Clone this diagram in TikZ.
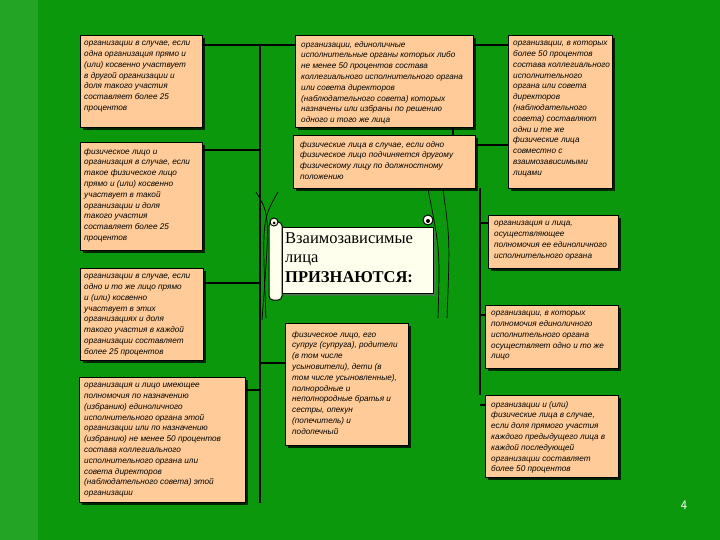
\documentclass[tikz,border=0pt]{standalone}
\usepackage{fontspec}
\setmainfont{Liberation Serif}
\newfontfamily\boxfont{Liberation Sans}
\usetikzlibrary{shadows}
\definecolor{slidegreen}{RGB}{12,152,12}
\definecolor{stripgreen}{RGB}{36,164,36}
\definecolor{peach}{RGB}{255,204,153}
\definecolor{cream}{RGB}{255,255,238}
\tikzset{
  box/.style={draw=black, line width=1.2pt, fill=peach, anchor=north west, inner sep=0pt,
    drop shadow={shadow xshift=2.5pt, shadow yshift=-2.5pt, fill=black!85!green, opacity=1}},
  boxtext/.style={anchor=north west, align=left, inner sep=0pt, text=black,
    font=\boxfont\itshape\fontsize{8.2}{10.8}\selectfont},
  link/.style={line width=1.6pt, black},
  curl/.style={line width=0.7pt, black},
}
\begin{document}
\begin{tikzpicture}[x=1pt, y=-1pt]
  \useasboundingbox (0,0) rectangle (720,540);
  % background
  \fill[slidegreen] (0,0) rectangle (720,540);
  \fill[stripgreen] (0,0) rectangle (38,540);

  % Drawing boxes on the left
  \node[box, minimum width=122pt, minimum height=92pt] (l1) at (80,35) {};
  \node[boxtext] (l1t) at ([xshift=4pt, yshift=-6pt]l1.north west) {организации в случае, если\\одна организация прямо и\\(или) косвенно участвует\\в другой организации и\\доля такого участия\\составляет более 25\\процентов};
  \node[box, minimum width=122pt, minimum height=108pt] (l2) at (80,142) {};
  \node[boxtext] (l2t) at ([xshift=4pt, yshift=-6pt]l2.north west) {физическое лицо и\\организация в случае, если\\такое физическое лицо\\прямо и (или) косвенно\\участвует в такой\\организации и доля\\такого участия\\составляет более 25\\процентов};
  \node[box, minimum width=123pt, minimum height=92pt] (l3) at (80,268) {};
  \node[boxtext] (l3t) at ([xshift=4pt, yshift=-6pt]l3.north west) {организации в случае, если\\одно и то же лицо прямо\\и (или) косвенно\\участвует в этих\\организациях и доля\\такого участия в каждой\\организации составляет\\более 25 процентов};
  \node[box, minimum width=166pt, minimum height=125pt] (l4) at (79,377) {};
  \node[boxtext] (l4t) at ([xshift=5pt, yshift=-6pt]l4.north west) {организация и лицо имеющее\\полномочия по назначению\\(избранию) единоличного\\исполнительного органа этой\\организации или по назначению\\(избранию) не менее 50 процентов\\состава коллегиального\\исполнительного органа или\\совета директоров\\(наблюдательного совета) этой\\организации};

  % Drawing boxes in the middle
  \node[box, minimum width=178pt, minimum height=92pt] (m1) at (295,35) {};
  \node[boxtext] (m1t) at ([xshift=6pt, yshift=-6pt]m1.north west) {организации, единоличные\\исполнительные органы которых либо\\не менее 50 процентов состава\\коллегиального исполнительного органа\\или совета директоров\\(наблюдательного совета) которых\\назначены или избраны по решению\\одного и того же лица};
  \node[box, minimum width=182pt, minimum height=53pt] (m2) at (293,135) {};
  \node[boxtext] (m2t) at ([xshift=7pt, yshift=-6pt]m2.north west) {физические лица в случае, если одно\\физическое лицо подчиняется другому\\физическому лицу по должностному\\положению};
  \node[box, minimum width=123pt, minimum height=122pt] (lb) at (285,323) {};
  \node[boxtext] (lbt) at ([xshift=7pt, yshift=-8pt]lb.north west) {физическое лицо, его\\супруг (супруга), родители\\(в том числе\\усыновители), дети (в\\том числе усыновленные),\\полнородные и\\неполнородные братья и\\сестры, опекун\\(попечитель) и\\подопечный};

  % Drawing boxes on the right
  \node[box, minimum width=104pt, minimum height=153pt] (r0) at (508,35) {};
  \node[boxtext] (r0t) at ([xshift=5pt, yshift=-6pt]r0.north west) {организации, в которых\\более 50 процентов\\состава коллегиального\\исполнительного\\органа или совета\\директоров\\(наблюдательного\\совета) составляют\\одни и те же\\физические лица\\совместно с\\взаимозависимыми\\лицами};
  \node[box, minimum width=130pt, minimum height=53pt] (r1) at (488,215) {};
  \node[boxtext] (r1t) at ([xshift=6pt, yshift=-6pt]r1.north west) {организация и лица,\\осуществляющее\\полномочия ее единоличного\\исполнительного органа};
  \node[box, minimum width=133pt, minimum height=63pt] (r2) at (485,305) {};
  \node[boxtext] (r2t) at ([xshift=6pt, yshift=-6pt]r2.north west) {организации, в которых\\полномочия единоличного\\исполнительного органа\\осуществляет одно и то же\\лицо};
  \node[box, minimum width=133pt, minimum height=82pt] (r3) at (485,395) {};
  \node[boxtext] (r3t) at ([xshift=6pt, yshift=-6pt]r3.north west) {организации и (или)\\физические лица в случае,\\если доля прямого участия\\каждого предыдущего лица в\\каждой последующей\\организации составляет\\более 50 процентов};

  % Junction points
  \coordinate (spineL) at (260,45);
  \coordinate (spineR) at (480,188);
  \coordinate (tailL) at (262,320);
  \coordinate (tailR) at (447,318);

  % Drawing connectors
  \draw[link] ([yshift=-10pt]l1.north east) -- ([yshift=-10pt]l1.north east -| m1.west);
  \draw[link] ([yshift=-10pt]m1.north east) -- ([yshift=-10pt]m1.north east -| r0.west);
  \draw[link] (m1.south -| 453,0) -- (m2.north -| 453,0);
  \draw[link] ([yshift=-10pt]m2.north east) -- ([yshift=-10pt]m2.north east -| r0.west);
  \draw[link] (spineL) -- (spineL |- l4.south);
  \draw[link] ([yshift=-8pt]l2.north east) -- ([yshift=-8pt]l2.north east -| spineL);
  \draw[link] ([yshift=-15pt]l3.north east) -- ([yshift=-15pt]l3.north east -| spineL);
  \draw[link] ([yshift=-13pt]l4.north east) -- ([yshift=-13pt]l4.north east -| spineL);
  \draw[link] ([yshift=-40pt]lb.north west) -- ([yshift=-40pt]lb.north west -| spineL);
  \draw[link] (spineR) -- (spineR |- r3.north);
  \draw[link] ([yshift=-8pt]r1.north west) -- ([yshift=-8pt]r1.north west -| spineR);
  \draw[link] ([yshift=-10pt]r2.north west) -- ([yshift=-10pt]r2.north west -| spineR);
  \draw[link] ([yshift=-10pt]r3.north west) -- ([yshift=-10pt]r3.north west -| spineR);

  % thin curves behind the scroll
  \draw[curl] (m2.south -| 443,0) .. controls (450,240) .. (tailR);
  \draw[curl] (m2.south -| 428,0) .. controls (440,250) .. (438,318);
  \draw[curl] (256,192) .. controls (270,215) .. (tailL);
  \draw[curl] (278,192) .. controls (262,220) .. (266,318);

  % Drawing the scroll
  \draw[black, line width=1pt, fill=cream, drop shadow={shadow xshift=3pt, shadow yshift=-3pt, fill=black!60, opacity=0.6}]
    (282,228) rectangle (433,293);
  \draw[black, line width=1pt, fill=cream, rounded corners=4pt] (269,222) rectangle (282,300);
  \draw[black, line width=1pt, fill=cream] (274,222) circle (4pt);
  \fill[black] (274,223) circle (1.5pt);
  \draw[black, line width=1pt, fill=cream] (428,220) circle (5pt);
  \fill[black] (428,221) circle (2pt);
  \node[anchor=north west, align=left, inner sep=0pt, font=\fontsize{16.5}{19.5}\selectfont] (centre) at (285,232)
    {Взаимозависимые\\лица\\\textbf{ПРИЗНАЮТСЯ:}};

  % Marking page number
  \node[font=\fontsize{13}{13}\sffamily, text=white] (page) at (684,505) {4};
\end{tikzpicture}
\end{document}
